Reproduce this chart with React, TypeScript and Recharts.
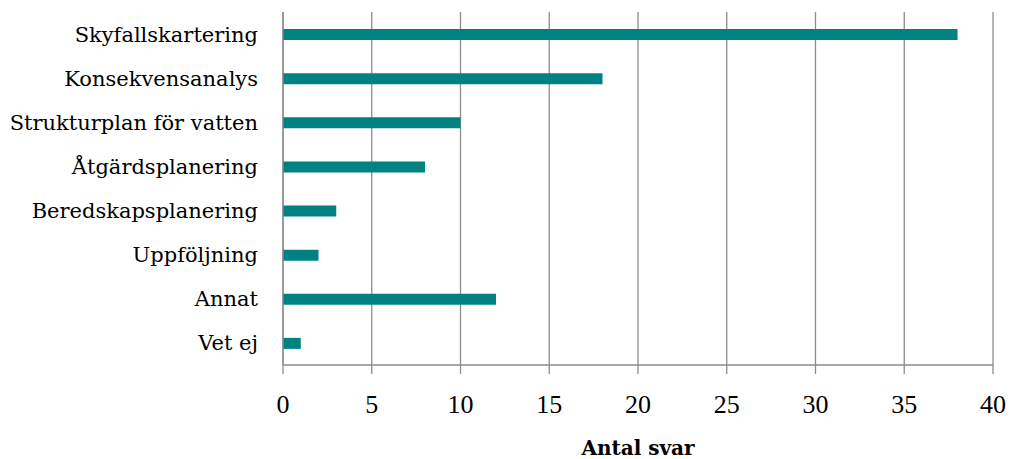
import React from 'react';
import { BarChart, Bar, XAxis, YAxis, CartesianGrid } from 'recharts';

const categories = [
  'Skyfallskartering',
  'Konsekvensanalys',
  'Strukturplan för vatten',
  'Åtgärdsplanering',
  'Beredskapsplanering',
  'Uppföljning',
  'Annat',
  'Vet ej',
];
const values = [38, 18, 10, 8, 3, 2, 12, 1];
const xTicks = [0, 5, 10, 15, 20, 25, 30, 35, 40];
const xTitle = 'Antal svar';

const data = categories.map((c, i) => ({ name: c, value: values[i] }));

export default function App() {
  return (
    <div style={{ position: 'absolute', left: 0, top: 0, background: '#fff' }}>
      <BarChart
        width={1011}
        height={459}
        data={data}
        layout="vertical"
        margin={{ top: 12, right: 18, bottom: 0, left: 0 }}
      >
        <CartesianGrid horizontal={false} stroke="#8c8c8c" strokeWidth={1.3} />
        <XAxis
          type="number"
          domain={[0, 40]}
          ticks={xTicks}
          interval={0}
          height={94}
          tickSize={9}
          tickMargin={21}
          axisLine={{ stroke: '#8c8c8c', strokeWidth: 1.3 }}
          tickLine={{ stroke: '#8c8c8c', strokeWidth: 1.3 }}
          tick={{ fill: '#000', fontSize: 26, fontFamily: '"Liberation Serif", serif' }}
          label={{
            value: xTitle,
            position: 'insideBottom',
            offset: 4,
            fill: '#000',
            fontSize: 20,
            fontWeight: 'bold',
            fontFamily: '"DejaVu Serif", serif',
          }}
        />
        <YAxis
          type="category"
          dataKey="name"
          width={283}
          tickSize={0}
          tickMargin={25}
          axisLine={{ stroke: '#8c8c8c', strokeWidth: 1.3 }}
          tickLine={false}
          interval={0}
          tick={{ fill: '#000', fontSize: 21, fontFamily: '"DejaVu Serif", serif' }}
        />
        <Bar dataKey="value" fill="#008282" barSize={11} isAnimationActive={false} />
      </BarChart>
    </div>
  );
}
